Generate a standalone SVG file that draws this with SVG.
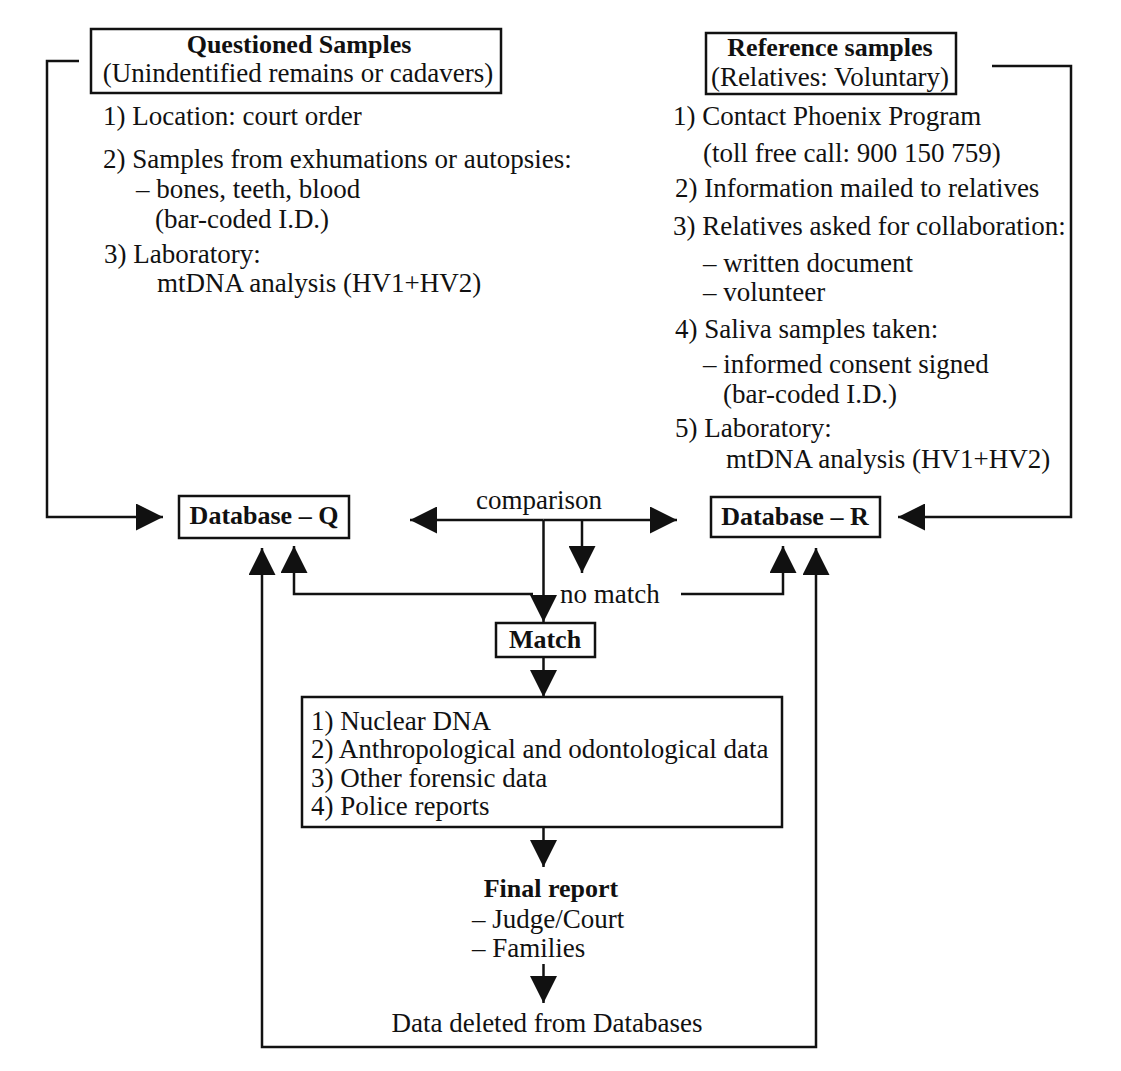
<svg xmlns="http://www.w3.org/2000/svg" width="1121" height="1071" viewBox="0 0 1121 1071">
<style>
text{font-family:"Liberation Serif","Times New Roman",serif;font-size:27px;fill:#111}
.b{font-weight:bold;font-size:26px}
.m{text-anchor:middle}
.box{fill:#fff;stroke:#111;stroke-width:2.5}
.c{fill:none;stroke:#111;stroke-width:2.5}
</style>
<defs>
<marker id="ah" viewBox="0 0 27 27" refX="27" refY="13.5" markerWidth="27" markerHeight="27" markerUnits="userSpaceOnUse" orient="auto-start-reverse">
<path d="M0,0 L27,13.5 L0,27 z" fill="#111"/>
</marker>
</defs>
<rect width="1121" height="1071" fill="#fff"/>
<g id="connectors">
<path class="c" d="M79,61 H47 V517 H163" marker-end="url(#ah)"/>
<path class="c" d="M992,66 H1071 V517 H898" marker-end="url(#ah)"/>
<path class="c" d="M543.5,520 H410" marker-end="url(#ah)"/>
<path class="c" d="M543.5,520 H677" marker-end="url(#ah)"/>
<path class="c" d="M543.5,520 V622" marker-end="url(#ah)"/>
<path class="c" d="M582,520 V573" marker-end="url(#ah)"/>
<path class="c" d="M533,594 H294 V546" marker-end="url(#ah)"/>
<path class="c" d="M681,594 H783 V546" marker-end="url(#ah)"/>
<path class="c" d="M543.5,657 V697" marker-end="url(#ah)"/>
<path class="c" d="M543.5,827 V867" marker-end="url(#ah)"/>
<path class="c" d="M543.5,964 V1003" marker-end="url(#ah)"/>
<path class="c" d="M262,548 V1047 H816 V548" marker-start="url(#ah)" marker-end="url(#ah)"/>
<text x="476" y="509">comparison</text>
<text x="560" y="603">no match</text>
</g>
<g id="questioned">
<rect class="box" x="91" y="29" width="410" height="64"/>
<text class="b m" x="299" y="53">Questioned Samples</text>
<text class="m" x="298" y="82">(Unindentified remains or cadavers)</text>
<text x="103" y="125">1) Location: court order</text>
<text x="103" y="168">2) Samples from exhumations or autopsies:</text>
<text x="136" y="198">– bones, teeth, blood</text>
<text x="155" y="228">(bar-coded I.D.)</text>
<text x="104" y="263">3) Laboratory:</text>
<text x="157" y="292">mtDNA analysis (HV1+HV2)</text>
</g>
<g id="reference">
<rect class="box" x="706" y="33" width="250" height="61"/>
<text class="b m" x="830" y="56">Reference samples</text>
<text class="m" x="830" y="86">(Relatives: Voluntary)</text>
<text x="673" y="125">1) Contact Phoenix Program</text>
<text x="703" y="162">(toll free call: 900 150 759)</text>
<text x="675" y="197">2) Information mailed to relatives</text>
<text x="673" y="235">3) Relatives asked for collaboration:</text>
<text x="703" y="272">– written document</text>
<text x="703" y="301">– volunteer</text>
<text x="675" y="338">4) Saliva samples taken:</text>
<text x="703" y="373">– informed consent signed</text>
<text x="723" y="403">(bar-coded I.D.)</text>
<text x="675" y="437">5) Laboratory:</text>
<text x="726" y="468">mtDNA analysis (HV1+HV2)</text>
</g>
<g id="databaseQ">
<rect class="box" x="179" y="496" width="170" height="42"/>
<text class="b m" x="264" y="524">Database – Q</text>
</g>
<g id="databaseR">
<rect class="box" x="711" y="497" width="169" height="40"/>
<text class="b m" x="795" y="525">Database – R</text>
</g>
<g id="match">
<rect class="box" x="496" y="623" width="99" height="34"/>
<text class="b m" x="545" y="648">Match</text>
</g>
<g id="checks">
<rect class="box" x="302" y="697" width="480" height="130"/>
<text x="311" y="730">1) Nuclear DNA</text>
<text x="311" y="758">2) Anthropological and odontological data</text>
<text x="311" y="787">3) Other forensic data</text>
<text x="311" y="815">4) Police reports</text>
</g>
<g id="final">
<text class="b m" x="551" y="897">Final report</text>
<text x="472" y="928">– Judge/Court</text>
<text x="472" y="957">– Families</text>
</g>
<g id="deleted">
<text class="m" x="547" y="1032">Data deleted from Databases</text>
</g>
</svg>
